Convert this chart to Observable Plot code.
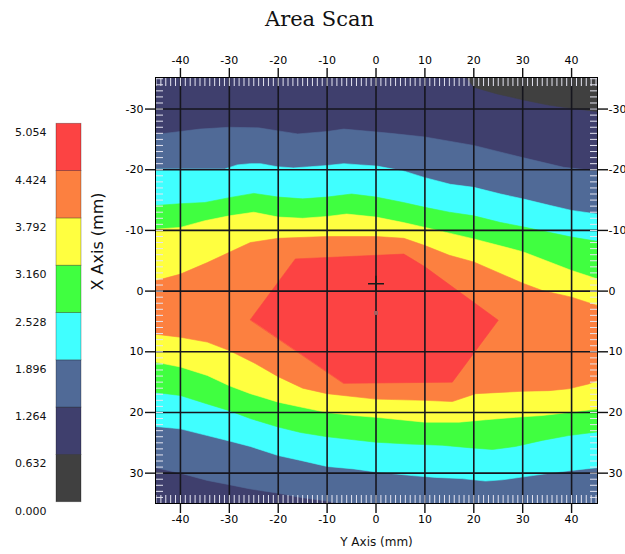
<!DOCTYPE html>
<html>
<head>
<meta charset="utf-8">
<script src="https://cdn.jsdelivr.net/npm/d3@7"></script>
<script src="https://cdn.jsdelivr.net/npm/@observablehq/plot@0.6"></script>
<style>
  body { margin: 0; background: #fff; }
  #wrap { position: relative; width: 625px; height: 554px; overflow: hidden; background: #fff; }
  #wrap svg { position: absolute; left: 0; top: 0; }
</style>
</head>
<body>
<div id="wrap"></div>
<script>
// ---------- axes / ticks ----------
const xDomain = [-45.1, 45.3];           // "Y Axis (mm)"
const yDomain = [-35.2, 35.0];           // "X Axis (mm)" (reversed: -30 at top)
const xTicks = [-40, -30, -20, -10, 0, 10, 20, 30, 40];
const yTicks = [-30, -20, -10, 0, 10, 20, 30];
const minorX = d3.range(-45, 46, 1);
const minorY = d3.range(-35, 36, 1);

// ---------- legend ----------
const legendValues = [0, 0.632, 1.264, 1.896, 2.528, 3.160, 3.792, 4.424, 5.056];
const legendLabels = ["0.000", "0.632", "1.264", "1.896", "2.528", "3.160", "3.792", "4.424", "5.054"];
const bandColors = ["#404040", "#3f3f6d", "#506a97", "#40ffff", "#40ff40", "#ffff40", "#fc8040", "#fc4343"];

// ---------- contour boundaries ([x mm, y mm]) ----------
// value < 0.632 (top-right corner)
const edge0632 = [[18.5,-35.2],[20,-33.6],[24.8,-32.5],[30.2,-31.5],[35,-30.7],[39.1,-30.2],[45.3,-29.6],[45.3,-35.2]];
// value > 1.264
const top1264 = [[-45.1,-25.8],[-40,-26.3],[-36,-26.7],[-30,-27],[-24,-26.9],[-20,-26.4],[-16,-25.9],[-10,-26.3],[-6.6,-26.7],[-1,-26.3],[3,-26],[10,-25.4],[20,-24],[30,-22],[38.4,-20.4],[45.3,-19.8]];
const bot1264 = [[-45.1,29.1],[-40,30],[-34.5,31.2],[-30,31.9],[-25.7,32.6],[-20,33.3],[-15.4,34],[-10,34.6],[-7.3,35],[45.3,35]];
// value > 1.896
const top1896 = [[-45.1,-20.1],[-31,-20.1],[-28.4,-20.8],[-25.7,-21],[-23.6,-21],[-20.2,-20.5],[-16.9,-20.3],[-13.4,-20.5],[-10,-20.7],[-6.6,-21],[-3.2,-20.8],[0.2,-20.6],[5.6,-19.8],[10,-18.7],[15.2,-17.6],[20,-17.1],[25.5,-16],[30,-15.2],[35.7,-14.1],[40,-13.3],[45.3,-12.7]];
const bot1896 = [[-45.1,22.3],[-40,22.7],[-34.5,23.8],[-30,24.7],[-25.7,25.6],[-20,27.1],[-15.4,27.9],[-10,28.9],[-4.5,29.3],[0,29.8],[7.4,30.4],[12.2,30.7],[17.6,30.9],[22.4,31.3],[25.8,31.1],[32,30.4],[37.4,29.8],[42.8,29.3],[45.3,29.1]];
// value > 2.528
const top2528 = [[-45.1,-14.1],[-40,-14.4],[-35,-14.6],[-30,-15.4],[-25,-16.1],[-20,-15.5],[-15,-15.2],[-10,-15.5],[-5,-16],[0,-15.5],[5.6,-14.6],[10,-13.8],[15,-13],[20,-12.4],[25.5,-11.3],[30,-10.6],[40,-8.9],[45.3,-8.2]];
const bot2528 = [[-45.1,16.7],[-40,17.2],[-34.5,18.6],[-30,19.7],[-25.7,21],[-20,22.4],[-15.4,23.3],[-10,24],[-4.5,24.5],[0,24.9],[6.7,25.2],[13.5,25.4],[19,25.8],[23.8,26.1],[28.5,25.6],[34,24.6],[39.4,23.8],[45.3,23.2]];
// value > 3.160
const top3160 = [[-45.1,-10.2],[-40,-10.5],[-35,-11.6],[-30,-12.4],[-25,-13],[-20,-12.2],[-15,-12],[-10,-12.3],[-6,-12.7],[0,-12.2],[5.6,-11.3],[10,-10.5],[20,-8.6],[30,-6.5],[40,-3.4],[45.3,-2]];
const bot3160 = [[-45.1,11.7],[-40,12.5],[-34.5,13.9],[-30,15.6],[-25.7,16.9],[-20,18.3],[-15.4,19.1],[-10,20],[-4.5,20.5],[0,20.8],[10,21.6],[17,21.6],[22.4,21.2],[28.5,20.8],[34,20.5],[39.4,20],[45.3,19.4]];
// value > 3.792
const top3792 = [[-45.1,-1.7],[-40,-2.8],[-34.5,-4.7],[-30,-6.4],[-25.7,-8],[-20,-8.7],[-10,-9],[0,-9],[5.7,-8.7],[10,-7.5],[15,-5.9],[20,-4.8],[30,-1.3],[34,-0.1],[40,1],[45.3,2.4]];
const bot3792 = [[-45.1,7.1],[-40,7.6],[-34.5,8.4],[-30,9.8],[-25,11.8],[-20,14.1],[-15,16],[-10,16.9],[0,17.8],[10,18],[15.6,18.2],[20.4,16.9],[30,16.5],[35.4,16.4],[39.4,16.1],[43.5,15.3],[45.3,14.7]];
// value > 4.424 (central hexagon)
const ring4424 = [[-25.7,4.7],[-16.5,-5.3],[5.7,-6.1],[10,-4.0],[25,4.8],[15.6,15.0],[-6.6,15.2]];

// probe markers
const crossPoint = [{x: 0, y: -1.2}];
const probePoint = [{x: 0, y: 3.6}];

// ---------- build regions ----------
const band = (top, bot) => top.concat(bot.slice().reverse());
const regions = [
  {ring: edge0632, color: bandColors[0]},
  {ring: band(top1264, bot1264), color: bandColors[2]},
  {ring: band(top1896, bot1896), color: bandColors[3]},
  {ring: band(top2528, bot2528), color: bandColors[4]},
  {ring: band(top3160, bot3160), color: bandColors[5]},
  {ring: band(top3792, bot3792), color: bandColors[6]},
  {ring: ring4424, color: bandColors[7]}
];

const font = "'DejaVu Sans', sans-serif";
const fmt = d => String(d);
const axisStyle = {stroke: "#111", strokeWidth: 1.4, fontSize: 11, tickFormat: fmt, label: null};
const minorStyle = {stroke: "#e4e4f0", strokeWidth: 1, fill: "none", label: null, tickSize: 8};

const main = Plot.plot({
  width: 625, height: 554,
  marginLeft: 155, marginRight: 28, marginTop: 77, marginBottom: 51,
  x: {domain: xDomain, axis: null},
  y: {domain: yDomain, reverse: true, axis: null},
  style: {fontFamily: font, fontSize: "11px", color: "#000", background: "transparent", overflow: "visible"},
  marks: [
    Plot.frame({fill: bandColors[1], stroke: null}),
    ...regions.map(r => Plot.line(r.ring, {
      x: d => d[0], y: d => d[1], curve: "linear-closed",
      fill: r.color, stroke: r.color, strokeWidth: 0.6, clip: true
    })),
    Plot.gridX(xTicks, {stroke: "#16161e", strokeOpacity: 1, strokeWidth: 1.6}),
    Plot.gridY(yTicks, {stroke: "#16161e", strokeOpacity: 1, strokeWidth: 1.6}),
    Plot.axisX(minorX, {...minorStyle, anchor: "top", dy: 8}),
    Plot.axisX(minorX, {...minorStyle, anchor: "bottom", dy: -8}),
    Plot.axisY(minorY, {...minorStyle, anchor: "left", dx: 8}),
    Plot.axisY(minorY, {...minorStyle, anchor: "right", dx: -8}),
    Plot.dot(crossPoint, {x: "x", y: "y", symbol: "plus", r: 5.2, stroke: "#1a1a1a", strokeWidth: 1.6}),
    Plot.dot(probePoint, {x: "x", y: "y", symbol: "square", r: 2.2, fill: "#a26262", stroke: "none"}),
    Plot.frame({stroke: "#000", strokeWidth: 1}),
    Plot.axisX(xTicks, {...axisStyle, anchor: "top", tickSize: 10, tickPadding: 4}),
    Plot.axisX(xTicks, {...axisStyle, anchor: "bottom", tickSize: 10, tickPadding: 2}),
    Plot.axisY(yTicks, {...axisStyle, anchor: "left", tickSize: 10, tickPadding: 2}),
    Plot.axisY(yTicks, {...axisStyle, anchor: "right", tickSize: 10, tickPadding: 1}),
    Plot.text(["Y Axis (mm)"], {frameAnchor: "bottom", dy: 39, fontSize: 12, lineAnchor: "middle", fill: "#111"}),
    Plot.text(["X Axis (mm)"], {frameAnchor: "left", dx: -58, rotate: -90, fontSize: 16, lineAnchor: "middle", fill: "#111"}),
    Plot.text(["Area Scan"], {frameAnchor: "top-left", dx: 164, dy: -51.3, textAnchor: "middle", lineAnchor: "bottom",
      fontSize: 21, fontFamily: "'DejaVu Serif', serif", fill: "#111"})
  ]
});

const legendBands = bandColors.map((c, i) => ({lo: legendValues[i], hi: legendValues[i + 1], color: c}));
const legendTexts = legendValues.map((v, i) => ({v, label: legendLabels[i]}));

const legend = Plot.plot({
  width: 90, height: 554,
  marginLeft: 56, marginRight: 9, marginTop: 123.3, marginBottom: 52.3,
  x: {domain: [0, 1], axis: null},
  y: {domain: [0, 5.056], axis: null},
  color: {type: "identity"},
  style: {fontFamily: font, fontSize: "11px", color: "#000", background: "transparent", overflow: "visible"},
  marks: [
    Plot.rect(legendBands, {x1: 0, x2: 1, y1: "lo", y2: "hi", fill: "color", stroke: "rgba(0,0,0,0.35)", strokeWidth: 0.8}),
    Plot.text(legendTexts, {x: 0, y: "v", text: "label", textAnchor: "end", dx: -10, dy: 9, fontSize: 11, fill: "#111"})
  ]
});

const wrap = document.getElementById("wrap");
wrap.appendChild(main);
wrap.appendChild(legend);
</script>
</body>
</html>
